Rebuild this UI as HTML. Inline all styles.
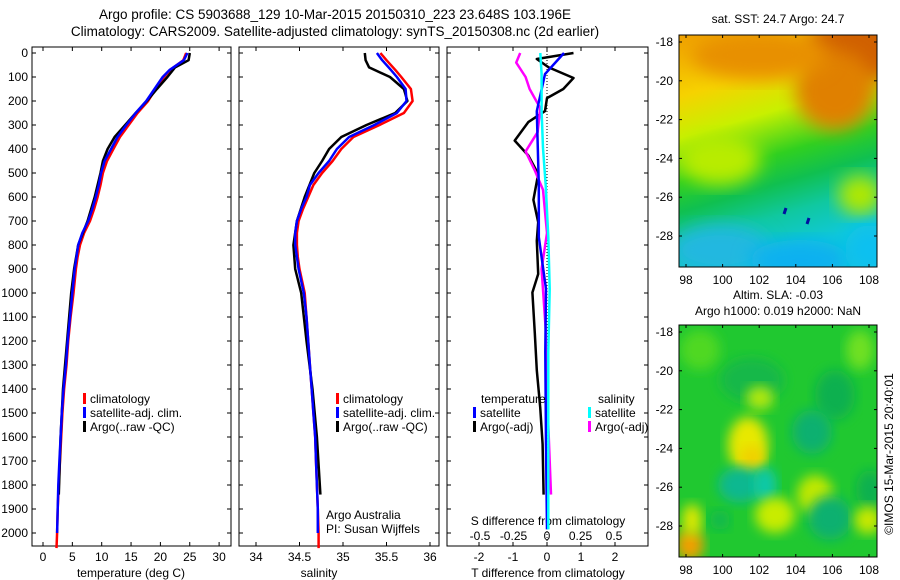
<!DOCTYPE html>
<html><head><meta charset="utf-8">
<style>
html,body{margin:0;padding:0;background:#fff;width:900px;height:580px;overflow:hidden}
svg{display:block;font-family:"Liberation Sans",sans-serif}
</style></head>
<body>
<svg id="chart" width="900" height="580" viewBox="0 0 900 580" xmlns="http://www.w3.org/2000/svg">
<defs>
<filter id="bl" x="-20%" y="-20%" width="140%" height="140%"><feGaussianBlur stdDeviation="9"/></filter>
<filter id="bl2" x="-20%" y="-20%" width="140%" height="140%"><feGaussianBlur stdDeviation="6"/></filter>
<clipPath id="c1"><rect x="679" y="35" width="198" height="232"/></clipPath>
<clipPath id="c2"><rect x="679" y="325" width="198" height="232"/></clipPath>
<linearGradient id="sstg" x1="0" y1="0" x2="0.25" y2="1">
<stop offset="0" stop-color="#f0a000"/><stop offset="0.25" stop-color="#f6d200"/><stop offset="0.42" stop-color="#c8f000"/><stop offset="0.6" stop-color="#30d020"/><stop offset="0.72" stop-color="#10c050"/><stop offset="0.85" stop-color="#10c8a0"/><stop offset="1" stop-color="#10c8d8"/>
</linearGradient>
</defs>
<g id="root"></g>
</svg>
<script>
// ---- data ----
const depthClim = [0,30,70,100,150,200,250,300,350,400,450,500,550,600,650,700,750,800,850,900,1000,1100,1200,1300,1400,1500,1600,1700,1800,1900,2000,2063];
const tempSat   = [24.6,24,21.6,20.4,19,17.6,15.8,14.2,12.7,11.6,10.5,9.9,9.5,9,8.4,7.7,6.7,6,5.7,5.4,5,4.6,4.2,3.9,3.5,3.2,3.0,2.8,2.6,2.5,2.4,2.4];
const tempClim  = [24.4,23.9,21.7,20.6,19.2,17.9,16.1,14.6,13.1,12,10.9,10.2,9.8,9.3,8.7,8,7,6.3,5.9,5.6,5.2,4.7,4.3,4,3.6,3.3,3.1,2.9,2.7,2.5,2.4,2.3];
const depthArgo = [0,30,60,100,150,200,250,300,350,400,450,500,600,700,800,900,1000,1200,1400,1600,1840];
const tempArgo  = [25,24.8,22.5,21.2,19.4,17.7,15.8,14,12.2,11,10.2,9.8,8.8,7.6,6,5.3,4.8,4.1,3.4,3.0,2.7];
const salSat    = [35.39,35.45,35.55,35.62,35.72,35.73,35.62,35.36,35.07,34.93,34.84,34.72,34.62,34.58,34.52,34.47,34.45,34.45,34.47,34.49,34.55,34.58,34.6,34.62,34.64,34.66,34.68,34.69,34.7,34.71,34.71,34.71];
const salClim   = [35.43,35.5,35.6,35.67,35.78,35.8,35.7,35.42,35.12,34.98,34.88,34.76,34.66,34.6,34.54,34.49,34.47,34.47,34.48,34.5,34.56,34.58,34.6,34.62,34.64,34.66,34.68,34.69,34.7,34.71,34.72,34.72];
const salArgo   = [35.25,35.26,35.3,35.54,35.7,35.74,35.6,35.27,34.98,34.84,34.76,34.67,34.56,34.47,34.43,34.45,34.52,34.58,34.65,34.7,34.74];
const depthDiffT = [0,25,60,104,150,188,242,288,365,427,504,612,705,783,921,998,1167,1322,1476,1630,1840];
const diffTArgo  = [0.78,-0.3,0.05,0.78,0.48,0,-0.06,-0.55,-0.95,-0.55,-0.26,-0.4,-0.26,-0.3,-0.26,-0.43,-0.36,-0.3,-0.2,-0.13,-0.1];
const depthDiffSat = [0,88,242,396,551,767,983,1245,1630,1985];
const diffTSat   = [0.5,-0.06,-0.3,-0.27,-0.24,-0.24,-0.03,-0.05,-0.03,0];
const diffSSat   = [-0.05,-0.04,-0.04,-0.03,-0.01,0.01,0.02,0.01,0.01,0.01];
const depthDiffS = [0,40,100,150,230,330,410,490,570,750,900,1150,1400,1550,1840];
const diffSArgo  = [-0.2,-0.23,-0.16,-0.13,-0.05,-0.07,-0.16,-0.09,-0.03,0,-0.04,-0.01,0,0.01,0.03];
const depthTicks = [0,100,200,300,400,500,600,700,800,900,1000,1100,1200,1300,1400,1500,1600,1700,1800,1900,2000];
const tempTicks = [0,5,10,15,20,25,30];
const salTicks = ["34","34.5","35","35.5","36"];
const dTTicks = ["-2","-1","0","1","2"];
const dSTicks = ["-0.5","-0.25","0","0.25","0.5"];
const latTicks = [-18,-20,-22,-24,-26,-28];
const lonTicks = [98,100,102,104,106,108];

// ---- scales ----
const Y = d => 53 + d*0.24;
const XT = t => 43 + t*5.87;
const XS = s => 256 + (s-34)*87;
const XdT = t => 547 + t*34;
const XdS = s => 547 + s*134;
const LON1 = l => 686 + (l-98)*18.3;
const LAT1 = l => 42 + (-18-l)*19.4;
const LAT2 = l => 332 + (-18-l)*19.4;

const NS="http://www.w3.org/2000/svg";
const root=document.getElementById('root');
function el(tag,attrs,parent,name,inter){
  const e=document.createElementNS(NS,tag);
  for(const k in attrs)e.setAttribute(k,attrs[k]);
  
  
  (parent||root).appendChild(e);return e;
}
function txt(x,y,s,anchor,size,name,extra){
  const t=el('text',Object.assign({x:x,y:y,'text-anchor':anchor||'start','font-size':size||12,fill:'#000'},extra||{}),root,name,false);
  t.textContent=s;return t;
}
function line(xs,ys,color,w,name){
  let p=xs.map((x,i)=>(i?'L':'M')+x.toFixed(1)+' '+ys[i].toFixed(1)).join(' ');
  return el('path',{d:p,fill:'none',stroke:color,'stroke-width':w||2.5,'stroke-linejoin':'round'},root,name,false);
}

txt(335,19,"Argo profile: CS 5903688_129 10-Mar-2015 20150310_223 23.648S 103.196E","middle",13.5,"title-line-1");
txt(335,36,"Climatology: CARS2009. Satellite-adjusted climatology: synTS_20150308.nc (2d earlier)","middle",13.5,"title-line-2");

const panels=[[32,231,'temperature-panel'],[239,439,'salinity-panel'],[447,648,'difference-panel']];
panels.forEach(p=>{
  el('rect',{x:p[0],y:47,width:p[1]-p[0],height:499,fill:'none',stroke:'#000','stroke-width':1},root,p[2]+'-frame',false);
});
depthTicks.forEach(d=>{
  const y=Y(d);
  txt(28,y+4,String(d),"end",12,"depth-tick-label");
  panels.forEach(p=>{
    el('line',{x1:p[0],y1:y,x2:p[0]+4,y2:y,stroke:'#000'},root,'depth-tick',false);
    el('line',{x1:p[1],y1:y,x2:p[1]-4,y2:y,stroke:'#000'},root,'depth-tick',false);
  });
});
tempTicks.forEach(t=>{const x=XT(t);
  txt(x,561,String(t),"middle",12,"temperature-tick-label");
  el('line',{x1:x,y1:546,x2:x,y2:542,stroke:'#000'},root,'x-tick',false);
  el('line',{x1:x,y1:47,x2:x,y2:51,stroke:'#000'},root,'x-tick',false);});
txt(131,577,"temperature (deg C)","middle",12,"temperature-axis-title");
salTicks.forEach(s=>{const x=XS(+s);
  txt(x,561,s,"middle",12,"salinity-tick-label");
  el('line',{x1:x,y1:546,x2:x,y2:542,stroke:'#000'},root,'x-tick',false);
  el('line',{x1:x,y1:47,x2:x,y2:51,stroke:'#000'},root,'x-tick',false);});
txt(319,577,"salinity","middle",12,"salinity-axis-title");
dTTicks.forEach(s=>{const x=XdT(+s);
  txt(x,561,s,"middle",12,"t-diff-tick-label");
  el('line',{x1:x,y1:546,x2:x,y2:542,stroke:'#000'},root,'x-tick',false);
  el('line',{x1:x,y1:47,x2:x,y2:51,stroke:'#000'},root,'x-tick',false);});
dSTicks.forEach(s=>{txt(XdS(+s),540,s,"middle",12,"s-diff-tick-label");});
txt(548,525,"S difference from climatology","middle",12,"s-diff-axis-title");
txt(548,577,"T difference from climatology","middle",12,"t-diff-axis-title");
el('line',{x1:547,y1:48,x2:547,y2:546,stroke:'#000','stroke-dasharray':'1,2'},root,'zero-line',false);

line(tempClim.map(XT),depthClim.map(Y),'#ff0000',2.5,'temp-climatology-line');
line(tempArgo.map(XT),depthArgo.map(Y),'#000',2.5,'temp-argo-line');
line(tempSat.slice(0,31).map(XT),depthClim.slice(0,31).map(Y),'#0000ff',2.5,'temp-satellite-line');
line(salClim.map(XS),depthClim.map(Y),'#ff0000',2.5,'sal-climatology-line');
line(salArgo.map(XS),depthArgo.map(Y),'#000',2.5,'sal-argo-line');
line(salSat.slice(0,31).map(XS),depthClim.slice(0,31).map(Y),'#0000ff',2.5,'sal-satellite-line');
line(diffTArgo.map(XdT),depthDiffT.map(Y),'#000',2.5,'t-diff-argo-line');
line(diffSArgo.map(XdS),depthDiffS.map(Y),'#ff00ff',2.5,'s-diff-argo-line');
line(diffTSat.map(XdT),depthDiffSat.map(Y),'#0000ff',2.5,'t-diff-satellite-line');
line(diffSSat.map(XdS),depthDiffSat.map(Y),'#00ffff',2.5,'s-diff-satellite-line');

function leg(x,y,c,s,name){el('rect',{x:x,y:y-10,width:3,height:11,fill:c},root,name+'-swatch',false);txt(x+7,y,s,"start",12,name);}
[[83,'temperature'],[336,'salinity']].forEach(l=>{
  leg(l[0],403,'#ff0000','climatology',l[1]+'-legend-climatology');
  leg(l[0],417,'#0000ff','satellite-adj. clim.',l[1]+'-legend-satellite');
  leg(l[0],431,'#000','Argo(..raw -QC)',l[1]+'-legend-argo');
});
txt(326,519,"Argo Australia","start",12,"credit-line-1");
txt(326,533,"PI: Susan Wijffels","start",12,"credit-line-2");
txt(481,403,"temperature","start",12,"diff-legend-temperature-header");
txt(598,403,"salinity","start",12,"diff-legend-salinity-header");
leg(473,417,'#0000ff','satellite','diff-legend-t-satellite');
leg(473,431,'#000','Argo(-adj)','diff-legend-t-argo');
leg(588,417,'#00ffff','satellite','diff-legend-s-satellite');
leg(588,431,'#ff00ff','Argo(-adj)','diff-legend-s-argo');

const g1=el('g',{'clip-path':'url(#c1)'},root,'sst-map',false);
el('rect',{x:679,y:35,width:198,height:232,fill:'url(#sstg)'},g1,'sst-map-background',false);
const sstBlobs=[[855,50,50,35,'#d06000'],[835,90,40,40,'#e08000'],[760,55,70,25,'#e89000'],[720,160,40,25,'#b8ec00'],[860,195,22,20,'#b0e800'],[720,250,50,25,'#20b8e0'],[800,260,50,20,'#10b0f0'],[870,250,25,25,'#10c0f0']];
sstBlobs.forEach(b=>el('ellipse',{cx:b[0],cy:b[1],rx:b[2],ry:b[3],fill:b[4],filter:'url(#bl)'},g1,'sst-blob',false));
el('path',{d:'M784 214 l2 -6 M807 224 l2 -6',stroke:'#0010a0','stroke-width':3},g1,'sst-dropout',false);
el('rect',{x:679,y:35,width:198,height:232,fill:'none',stroke:'#000'},root,'sst-map-frame',false);
const g2=el('g',{'clip-path':'url(#c2)'},root,'sla-map',false);
el('rect',{x:679,y:325,width:198,height:232,fill:'#20c830'},g2,'sla-map-background',false);
const slaBlobs=[[752,380,32,22,'#12b848'],[835,395,20,25,'#10b050'],[760,398,14,12,'#b0e810'],[812,432,20,22,'#10b070'],[748,445,20,28,'#e8e800'],[752,458,12,12,'#f0d000'],[740,485,22,18,'#10b890'],[765,485,12,18,'#10c8a8'],[775,515,20,18,'#c8ec00'],[815,495,18,20,'#c0e800'],[830,518,22,22,'#10b070'],[870,490,14,20,'#10b050'],[868,520,14,14,'#c8e800'],[690,545,14,16,'#f0a000'],[692,520,10,16,'#e0e800'],[700,350,20,20,'#50d820'],[860,350,14,20,'#70e020'],[720,520,10,10,'#10b850']];
slaBlobs.forEach(b=>el('ellipse',{cx:b[0],cy:b[1],rx:b[2],ry:b[3],fill:b[4],filter:'url(#bl2)'},g2,'sla-blob',false));
el('rect',{x:679,y:325,width:198,height:232,fill:'none',stroke:'#000'},root,'sla-map-frame',false);
latTicks.forEach(l=>{
  txt(673,LAT1(l)+4,String(l),"end",12,"sst-lat-tick-label");
  txt(673,LAT2(l)+4,String(l),"end",12,"sla-lat-tick-label");
  [LAT1(l),LAT2(l)].forEach(y=>{el('line',{x1:679,y1:y,x2:682,y2:y,stroke:'#000'},root,'lat-tick',false);el('line',{x1:877,y1:y,x2:874,y2:y,stroke:'#000'},root,'lat-tick',false);});
});
lonTicks.forEach(l=>{const x=LON1(l);
  txt(x,284,String(l),"middle",12,"sst-lon-tick-label");
  txt(x,574,String(l),"middle",12,"sla-lon-tick-label");
  [[35,38],[267,264],[325,328],[557,554]].forEach(t=>el('line',{x1:x,y1:t[0],x2:x,y2:t[1],stroke:'#000'},root,'lon-tick',false));
});
txt(778,23,"sat. SST: 24.7 Argo: 24.7","middle",12,"sst-map-title");
txt(778,299,"Altim. SLA: -0.03","middle",12,"sla-map-title-1");
txt(778,315,"Argo h1000: 0.019 h2000: NaN","middle",12,"sla-map-title-2");
txt(0,0,"©IMOS 15-Mar-2015 20:40:01","middle",12,"timestamp-label",{transform:'translate(893,454) rotate(-90)'});
</script>
</body></html>
